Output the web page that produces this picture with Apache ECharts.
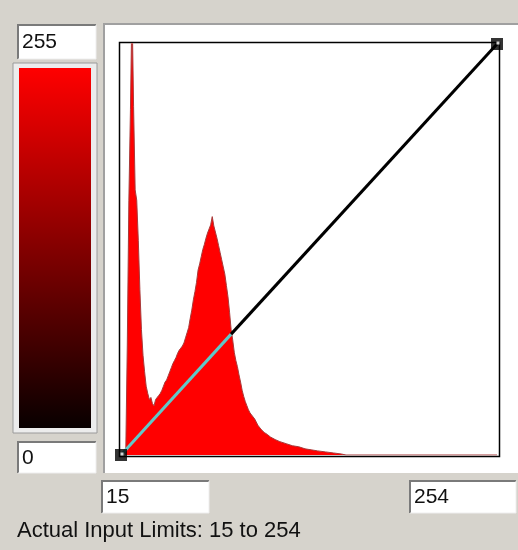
<!DOCTYPE html>
<html>
<head>
<meta charset="utf-8">
<script src="https://cdn.jsdelivr.net/npm/echarts@6/dist/echarts.min.js"></script>
<style>
    html, body, #main {
        width: 100%;
        height: 100%;
        margin: 0;
        background: #d6d3cc;
    }
</style>
</head>
<body>
<div id="main"></div>
<script>
    // histogram of input levels (counts, arbitrary units)
    var levels = [18, 19, 20, 21, 22, 23, 24, 25, 26, 27, 28, 29, 30, 31, 32, 33, 34, 35, 36, 37,
        38, 39, 40, 41, 42, 43, 44, 45, 46, 47, 48, 49, 50, 51, 52, 53, 54, 55, 56, 57,
        58, 59, 60, 61, 62, 63, 64, 65, 66, 67, 68, 69, 70, 71, 72, 73, 74, 75, 76, 77,
        78, 79, 80, 81, 82, 83, 84, 85, 86, 87, 88, 89, 90, 91, 92, 93, 94, 95, 96, 97,
        98, 99, 100, 102, 104, 106, 108, 110, 113, 116, 120, 124, 128, 132, 136, 140, 145, 150, 155, 158, 254];
    var counts = [0, 1070, 2480, 3360, 4400, 3390, 2580, 2480, 2090, 1610, 1220, 970, 810, 670, 600, 540, 560, 500, 480, 540,
        550, 580, 600, 630, 670, 710, 730, 770, 810, 850, 890, 920, 950, 990, 1020, 1040, 1060, 1090, 1140, 1190,
        1240, 1330, 1410, 1510, 1590, 1680, 1800, 1860, 1930, 2000, 2050, 2110, 2160, 2200, 2240, 2320, 2230, 2170, 2110, 2040,
        1970, 1900, 1830, 1760, 1650, 1540, 1390, 1220, 1120, 1000, 920, 860, 780, 710, 630, 570, 520, 480, 440, 410,
        390, 370, 350, 290, 250, 220, 200, 175, 150, 130, 110, 90, 80, 60, 50, 40, 30, 20, 10, 0, 0];

    // transfer curve: input level -> output level
    var curveIn = [15, 85, 254];
    var curveOut = [0, 75, 255];

    var outLabels = ['255', '0'];
    var inLabels = ['15', '254'];

    var boxFont = '21px "Liberation Sans", Arial, sans-serif';
    var noteFont = '22px "Liberation Sans", Arial, sans-serif';

    function box(x, y, w, h, label) {
        return {
            type: 'group',
            z: 1,
            children: [
                {type: 'rect', shape: {x: x, y: y, width: w, height: h}, style: {fill: '#fff'}},
                {type: 'polyline', shape: {points: [[x + 1, y + h], [x + 1, y + 1], [x + w, y + 1]]},
                    style: {stroke: '#7a7a7a', lineWidth: 2, fill: null}},
                {type: 'polyline', shape: {points: [[x + w, y + 1], [x + w, y + h], [x + 1, y + h]]},
                    style: {stroke: '#eeeeee', lineWidth: 1, fill: null}},
                {type: 'text', x: x + 5, y: y + h / 2 + 1,
                    style: {text: label, font: boxFont, fill: '#111', textVerticalAlign: 'middle'}}
            ]
        };
    }

    var chart = echarts.init(document.getElementById('main'));

    chart.setOption({
        animation: false,
        grid: {left: 121, top: 44, width: 376, height: 411},
        xAxis: {type: 'value', min: 15, max: 254, show: false},
        yAxis: [
            {type: 'value', min: 0, max: 255, show: false},
            {type: 'value', min: 0, max: 4000, show: false}
        ],
        graphic: [
            // white panel behind plot
            {type: 'rect', z: 0, shape: {x: 103, y: 23, width: 420, height: 450}, style: {fill: '#fff'}},
            {type: 'polyline', z: 0, shape: {points: [[104, 473], [104, 24], [518, 24]]},
                style: {stroke: '#a0a0a0', lineWidth: 2, fill: null}},
            // plot frame
            {type: 'rect', z: 1, shape: {x: 119.5, y: 42.5, width: 380, height: 414},
                style: {fill: null, stroke: '#000', lineWidth: 1.5}},
            // colour bar
            {type: 'rect', z: 1, shape: {x: 13, y: 63, width: 84, height: 370},
                style: {fill: '#ececec', stroke: '#9a9a9a', lineWidth: 1}},
            {type: 'rect', z: 1, shape: {x: 19, y: 68, width: 72, height: 360},
                style: {
                    fill: new echarts.graphic.LinearGradient(0, 0, 0, 1, [
                        {offset: 0, color: '#ff0000'},
                        {offset: 1, color: '#080000'}
                    ])
                }},
            box(17, 24, 79, 35, outLabels[0]),
            box(17, 441, 79, 32, outLabels[1]),
            box(101, 480, 108, 33, inLabels[0]),
            box(409, 480, 107, 33, inLabels[1]),
            {type: 'text', z: 1, x: 17, y: 531,
                style: {text: 'Actual Input Limits: ' + inLabels[0] + ' to ' + inLabels[1],
                    font: noteFont, fill: '#111', textVerticalAlign: 'middle'}}
        ],
        series: [
            {
                name: 'histogram',
                type: 'line',
                yAxisIndex: 1,
                z: 2,
                symbol: 'none',
                data: levels.map(function (l, i) { return [l, counts[i]]; }),
                lineStyle: {color: '#a83a3a', width: 1},
                areaStyle: {color: '#ff0000', opacity: 1}
            },
            {
                name: 'curve-in',
                type: 'line',
                z: 3,
                symbol: 'none',
                data: [[curveIn[0], curveOut[0]], [curveIn[1], curveOut[1]]],
                lineStyle: {color: '#5fc9c9', width: 3}
            },
            {
                name: 'curve',
                type: 'line',
                z: 3,
                symbol: 'none',
                data: [[curveIn[1], curveOut[1]], [curveIn[2], curveOut[2]]],
                lineStyle: {color: '#000', width: 3}
            },
            {
                name: 'handles',
                type: 'scatter',
                z: 4,
                symbol: 'rect',
                symbolSize: 12,
                itemStyle: {color: '#000'},
                data: [[curveIn[0], curveOut[0]], [curveIn[2], curveOut[2]]]
            },
            {
                type: 'scatter',
                z: 5,
                symbol: 'rect',
                symbolSize: 3,
                symbolOffset: [1, -1],
                itemStyle: {color: '#fff'},
                data: [[curveIn[0], curveOut[0]], [curveIn[2], curveOut[2]]]
            }
        ]
    });
</script>
</body>
</html>
